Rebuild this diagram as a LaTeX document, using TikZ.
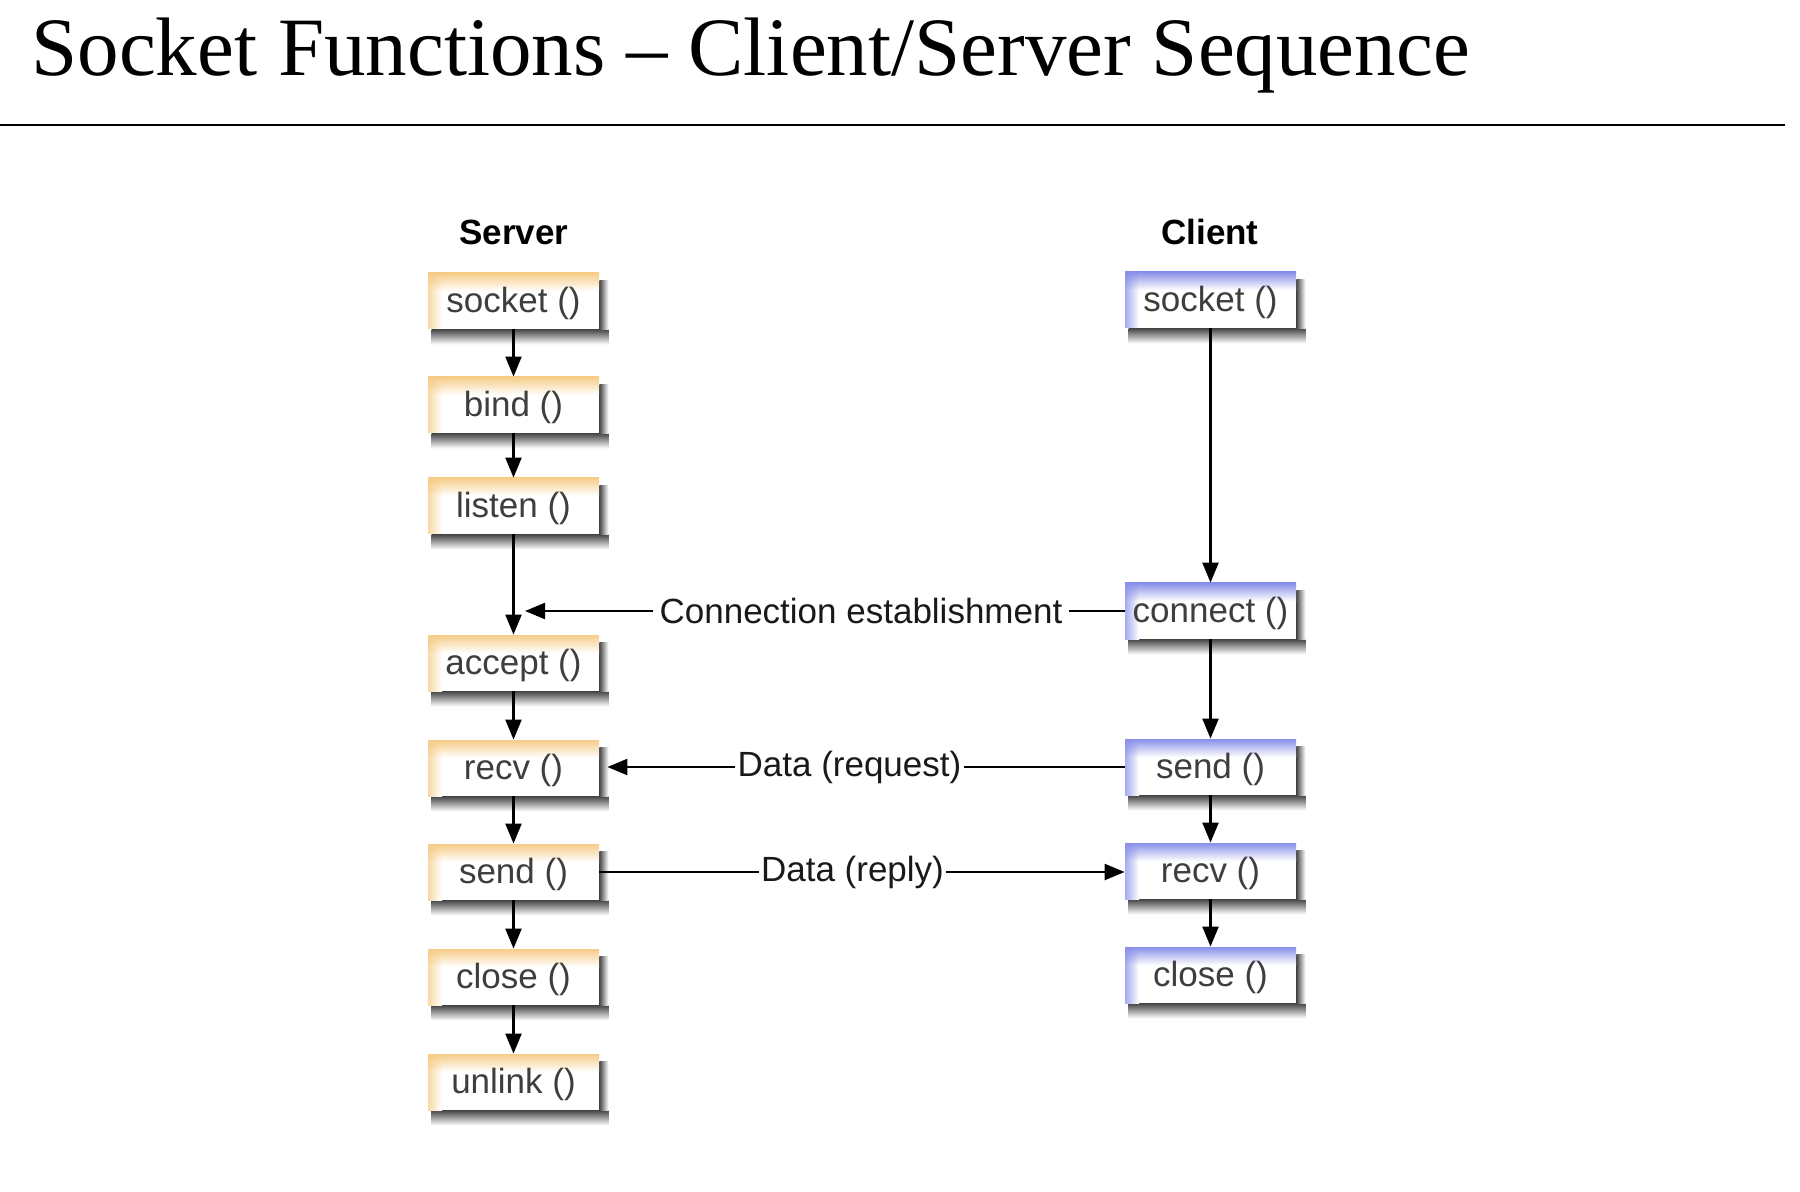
\documentclass[tikz,border=0pt]{standalone}
\usepackage{fontspec}
\setmainfont{Liberation Serif}
\newfontfamily\arialf{Liberation Sans}
\usetikzlibrary{arrows.meta,backgrounds,calc,shadings}
\definecolor{obar}{RGB}{246,204,136}
\definecolor{bbar}{RGB}{136,144,232}
\definecolor{boxtext}{RGB}{62,62,62}
\tikzset{
  fnbox/.style={rectangle, fill=white, minimum width=85.5pt, minimum height=28pt,
    inner sep=0pt, font=\arialf\fontsize{17.5}{20}\selectfont, text=boxtext,
    text height=15.6pt, text depth=3.7pt},
  bands/.style={path picture={
    \coordinate (bnw) at (path picture bounding box.north west);
    \coordinate (bne) at (path picture bounding box.north east);
    \coordinate (bsw) at (path picture bounding box.south west);
    \shade[top color=#1, bottom color=white] ([xshift=7pt]bnw) rectangle ([yshift=-9pt]bne);
    \shade[left color=#1!75, right color=white] ([yshift=-9pt]bnw) rectangle ([xshift=7pt]bsw);
    \shade[upper left=#1, upper right=#1, lower left=#1!75, lower right=white] (bnw) rectangle ([xshift=7pt,yshift=-9pt]bnw);
  }},
  srvbox/.style={fnbox, bands=obar},
  clibox/.style={fnbox, bands=bbar},
  header/.style={font=\arialf\bfseries\fontsize{17.5}{20}\selectfont, inner sep=0pt},
  msglabel/.style={font=\arialf\fontsize{17.5}{20}\selectfont, text=black!90},
  link/.style={line width=1.1pt, black},
  arr/.style={link, -{Triangle[length=10pt,width=8pt]}},
}
\begin{document}
\begin{tikzpicture}[x=0.5pt,y=-0.5pt]
\useasboundingbox (0,0) rectangle (1800,1192);
% title
\node[anchor=base west, inner sep=0pt, font=\fontsize{41.5}{50}\selectfont] (title) at (31,76) {Socket Functions – Client/Server Sequence};
\draw[line width=1pt] (0,125) -- (1785,125);
% headers
\node[header] (hserver) at (514,232) {Server};
\node[header] (hclient) at (1210,232) {Client};
% server boxes
\node[srvbox] (ssocket) at (513.5,301) {socket ()};
\node[srvbox] (sbind)   at (513.5,405) {bind ()};
\node[srvbox] (slisten) at (513.5,506) {listen ()};
\node[srvbox] (saccept) at (513.5,663) {accept ()};
\node[srvbox] (srecv)   at (513.5,768) {recv ()};
\node[srvbox] (ssend)   at (513.5,872) {send ()};
\node[srvbox] (sclose)  at (513.5,977) {close ()};
\node[srvbox] (sunlink) at (513.5,1082) {unlink ()};
% client boxes
\node[clibox] (csocket)  at (1210.5,300) {socket ()};
\node[clibox] (cconnect) at (1210.5,611) {connect ()};
\node[clibox] (csend)    at (1210.5,767) {send ()};
\node[clibox] (crecv)    at (1210.5,871) {recv ()};
\node[clibox] (cclose)   at (1210.5,975) {close ()};
% shadows
\begin{scope}[on background layer]
\fill[white] (0,0) rectangle (1800,1192);
\foreach \n in {ssocket,sbind,slisten,saccept,srecv,ssend,sclose,sunlink,csocket,cconnect,csend,crecv,cclose}{
  \shade[top color=black!72, bottom color=white] ([xshift=2pt]\n.south west) rectangle ([xshift=4.5pt,yshift=-7.5pt]\n.south east);
  \shade[left color=black!72, right color=white] ([yshift=-4pt]\n.north east) rectangle ([xshift=4.5pt]\n.south east);
}
\end{scope}
% server flow
\draw[arr] (ssocket) -- (sbind);
\draw[arr] (sbind) -- (slisten);
\draw[arr] (slisten) -- (saccept);
\draw[arr] (saccept) -- (srecv);
\draw[arr] (srecv) -- (ssend);
\draw[arr] (ssend) -- (sclose);
\draw[arr] (sclose) -- (sunlink);
% client flow
\draw[arr] (csocket) -- (cconnect);
\draw[arr] (cconnect) -- (csend);
\draw[arr] (csend) -- (crecv);
\draw[arr] (crecv) -- (cclose);
% messages
\node[msglabel, inner sep=3pt] (lconn) at (861,611) {Connection establishment};
\coordinate (conntip) at (525,611);
\draw[link] (cconnect.west) -- (lconn.east);
\draw[arr] (lconn.west) -- (conntip);
\node[msglabel, inner sep=1pt] (lreq) at (849.5,767) {Data (request)};
\draw[link] (csend.west) -- (lreq.east);
\draw[arr] (lreq.west) -- ([xshift=4pt]srecv.east |- lreq.west);
\node[msglabel, inner sep=1pt] (lrep) at (852.5,872) {Data (reply)};
\draw[link] (ssend.east) -- (lrep.west);
\draw[arr] (lrep.east) -- (crecv.west |- lrep.east);
\end{tikzpicture}
\end{document}
